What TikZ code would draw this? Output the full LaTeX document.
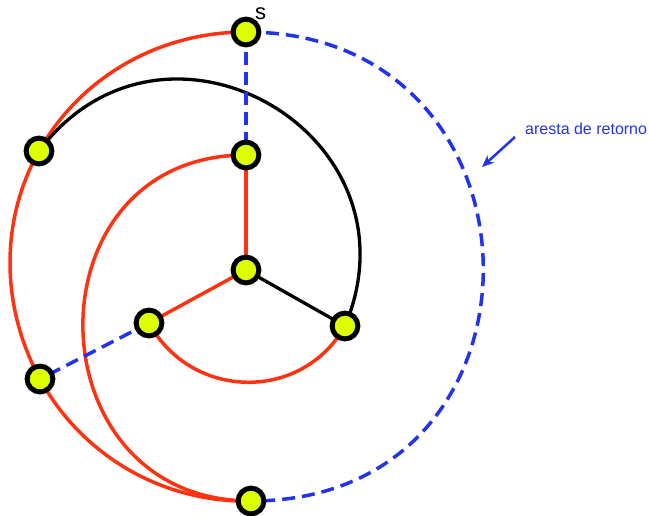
\documentclass[tikz,border=0pt]{standalone}
\usepackage{fontspec}
\setmainfont{Liberation Sans}
\usetikzlibrary{arrows.meta}
\pgfdeclarelayer{bg}
\pgfsetlayers{bg,main}
\definecolor{rd}{HTML}{FF3311}
\definecolor{bl}{HTML}{2233EE}
\definecolor{yl}{HTML}{DDFF00}
\begin{document}
\begin{tikzpicture}[x=1pt,y=1pt,
  vtx/.style={circle,draw=black,fill=yl,line width=5pt,minimum size=25.8pt,inner sep=0pt},
  redge/.style={draw=rd,line width=3.5pt},
  kedge/.style={draw=black,line width=3.3pt},
  bedge/.style={draw=bl,line width=3.5pt,dash pattern=on 13pt off 7pt},
  ]
\useasboundingbox (0,0) rectangle (649,-515);
\node[vtx] (s) at (246,-32) {};
\node[vtx] (A) at (39,-151) {};
\node[vtx] (B) at (246,-155) {};
\node[vtx] (C) at (246,-270) {};
\node[vtx] (D) at (345,-326) {};
\node[vtx] (E) at (149,-323) {};
\node[vtx] (F) at (40,-379) {};
\node[vtx] (G) at (251,-501) {};
\node[font=\fontsize{22}{22}\selectfont, anchor=base west, inner sep=0pt] (slabel) at (255,-19.3) {s};
\node[text=bl, font=\fontsize{16}{16}\selectfont, anchor=base west, inner sep=0pt] (ret) at (525,-134) {aresta de retorno};
\coordinate (tail) at (515,-137);
\coordinate (tip) at (482,-167);
\draw[bl, line width=2.5pt, -{Stealth[length=12pt,width=10pt]}] (tail) -- (tip);
\begin{pgfonlayer}{bg}
  % big outer circle (red part)
  \draw[redge] (s.center) to[out=180,in=60.7,looseness=0.92] (A.center);
  \draw[redge] (A.center) to[out=240.7,in=118.6,looseness=0.91] (F.center);
  \draw[redge] (F.center) to[out=298.6,in=181.3,looseness=0.92] (G.center);
  % return edge (blue dashed)
  \draw[bedge] (s.center) to[out=0,in=0,looseness=1.705] (G.center);
  % black arc
  \draw[kedge] (A.center) to[out=53.1,in=67.3,looseness=1.515] (D.center);
  % inner spiral
  \draw[redge] (B.center) to[out=180,in=180,looseness=1.63] (G.center);
  % inner lower arc
  \draw[redge] (E.center) to[out=298.6,in=240.5,looseness=1.148] (D.center);
  % straight edges
  \draw[bedge] (s.center) -- (B.center);
  \draw[redge] (B.center) -- (C.center);
  \draw[redge] (C.center) -- (E.center);
  \draw[kedge] (C.center) -- (D.center);
  \draw[bedge] (E.center) -- (F.center);
\end{pgfonlayer}
\end{tikzpicture}
\end{document}
